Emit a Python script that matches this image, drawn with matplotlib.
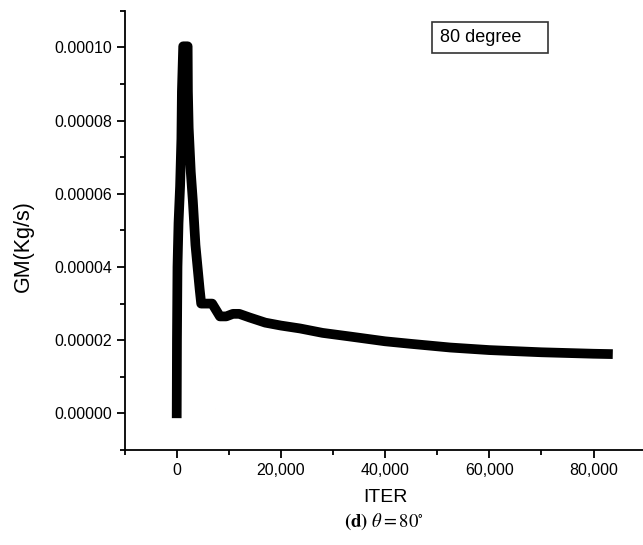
import matplotlib
matplotlib.use("Agg")
import matplotlib.pyplot as plt
from matplotlib.patches import Rectangle
from matplotlib.ticker import MultipleLocator, FuncFormatter

# ---------------------------------------------------------------------------
# data (mass flow vs iteration, theta = 80 deg)
# ---------------------------------------------------------------------------
ITER = [0, 50, 150, 350, 650, 900, 1000, 1250, 2100, 2150, 2300, 2700,
        3100, 3600, 4000, 4400, 4700, 6800, 8300, 9500, 10800, 12000,
        14000, 17000, 20000, 23700, 28000, 33300, 40000, 45000, 52500,
        60000, 70000, 80000, 83700]
GM = [-1.3e-6, 2.0e-5, 4.0e-5, 5.2e-5, 6.2e-5, 7.5e-5, 8.8e-5, 1.003e-4,
      1.003e-4, 8.8e-5, 7.8e-5, 6.6e-5, 5.8e-5, 4.6e-5, 4.0e-5, 3.4e-5,
      3.0e-5, 3.0e-5, 2.65e-5, 2.65e-5, 2.72e-5, 2.72e-5, 2.62e-5,
      2.48e-5, 2.40e-5, 2.32e-5, 2.20e-5, 2.10e-5, 1.97e-5, 1.90e-5,
      1.80e-5, 1.73e-5, 1.67e-5, 1.63e-5, 1.62e-5]

X_LABEL = "ITER"
Y_LABEL = "GM(Kg/s)"
BOX_TEXT = "80 degree"
CAPTION = r"$\mathbf{(d)}\ \theta = 80^{\circ}$"

W, H = 643, 545
plt.rcParams['font.family'] = ['Liberation Sans', 'DejaVu Sans']
plt.rcParams['mathtext.fontset'] = 'stix'

fig = plt.figure(figsize=(W / 100, H / 100), dpi=100)
# axes placed in pixels so the frame lines up with the reference
ax = fig.add_axes([124.6 / W, 95 / H, 521 / W, 439.2 / H])

ax.plot(ITER, GM, color='black', lw=7, solid_capstyle='butt',
        solid_joinstyle='round')

ax.set_xlim(-10000, 90000)
ax.set_ylim(-1e-5, 1.1e-4)

ax.xaxis.set_major_locator(MultipleLocator(20000))
ax.xaxis.set_minor_locator(MultipleLocator(10000))
ax.yaxis.set_major_locator(MultipleLocator(2e-5))
ax.yaxis.set_minor_locator(MultipleLocator(1e-5))
ax.xaxis.set_major_formatter(FuncFormatter(lambda v, p: f"{v:,.0f}"))
ax.yaxis.set_major_formatter(FuncFormatter(lambda v, p: f"{abs(v):.5f}" if abs(v) < 1e-12 else f"{v:.5f}"))

for side in ['top', 'right']:
    ax.spines[side].set_visible(False)
for side in ['left', 'bottom']:
    ax.spines[side].set_linewidth(1.3)

ax.tick_params(which='major', direction='out', length=6, width=1.3,
               labelsize=11.5)
ax.tick_params(axis='x', which='major', pad=3.5)
ax.tick_params(axis='y', which='major', pad=3)
ax.tick_params(which='minor', direction='out', length=3.5, width=1.3)

# labels as figure text (positions)
fig.text(385 / W, 1 - 497 / H, X_LABEL, fontsize=14, ha='center', va='center')
fig.text(23 / W, 1 - 246 / H, Y_LABEL, fontsize=15.5, rotation=90,
         ha='center', va='center')
fig.text(384 / W, 1 - 522 / H, CAPTION, fontsize=13.5, ha='center', va='center')

# boxed annotation top right
fig.patches.append(Rectangle((432.3 / W, 1 - 52.7 / H), 115.4 / W, 30.4 / H,
                             transform=fig.transFigure, fill=False,
                             edgecolor='#333333', lw=1.2))
fig.text(439.5 / W, 1 - 37.5 / H, BOX_TEXT, fontsize=13, ha='left', va='center')

fig.savefig("out.png", dpi=100)
